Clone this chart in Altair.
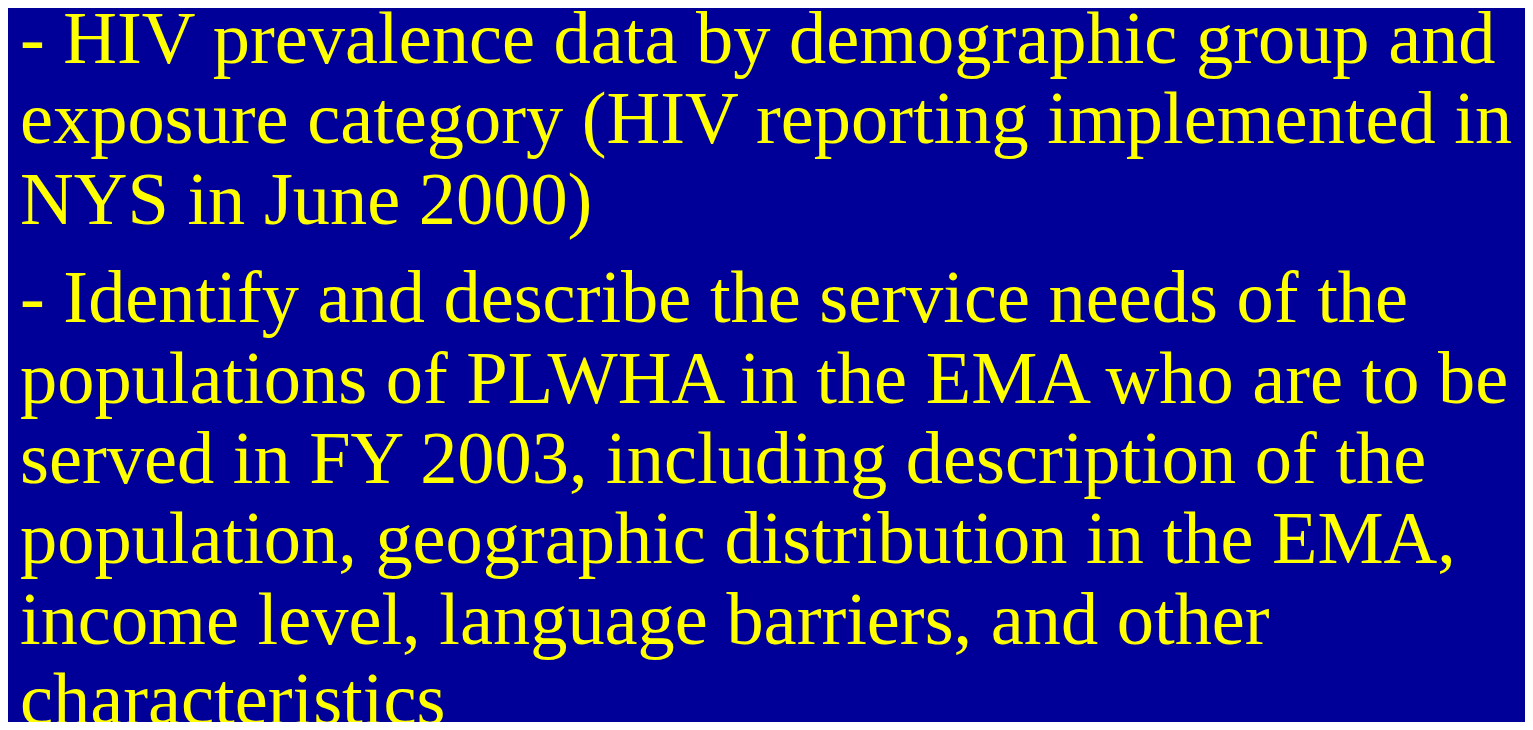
import altair as alt
import pandas as pd

lines = [
    "- HIV prevalence data by demographic group and",
    "exposure category (HIV reporting implemented in",
    "NYS in June 2000)",
    "- Identify and describe the service needs of the",
    "populations of PLWHA in the EMA who are to be",
    "served in FY 2003, including description of the",
    "population, geographic distribution in the EMA,",
    "income level, language barriers, and other",
    "characteristics",
]
paragraph = [0, 0, 0, 1, 1, 1, 1, 1, 1]

df = pd.DataFrame({
    "text": lines,
    "line": list(range(len(lines))),
    "para": paragraph,
})

chart = (
    alt.Chart(df)
    .transform_calculate(pos="datum.line + 0.23 * datum.para")
    .mark_text(
        align="left",
        baseline="alphabetic",
        font="Liberation Serif",
        fontSize=74.4,
        color="#FFFF00",
    )
    .encode(
        x=alt.value(12),
        y=alt.Y("pos:Q", scale=alt.Scale(domain=[0, 8.23], range=[55, 716]), axis=None),
        text="text:N",
    )
    .properties(width=1517, height=714, autosize=alt.AutoSizeParams(type="none"), padding=0)
    .configure(background="#000099")
    .configure_view(stroke=None)
)

chart.save("out.html", embed_options={"renderer": "svg", "actions": False})
